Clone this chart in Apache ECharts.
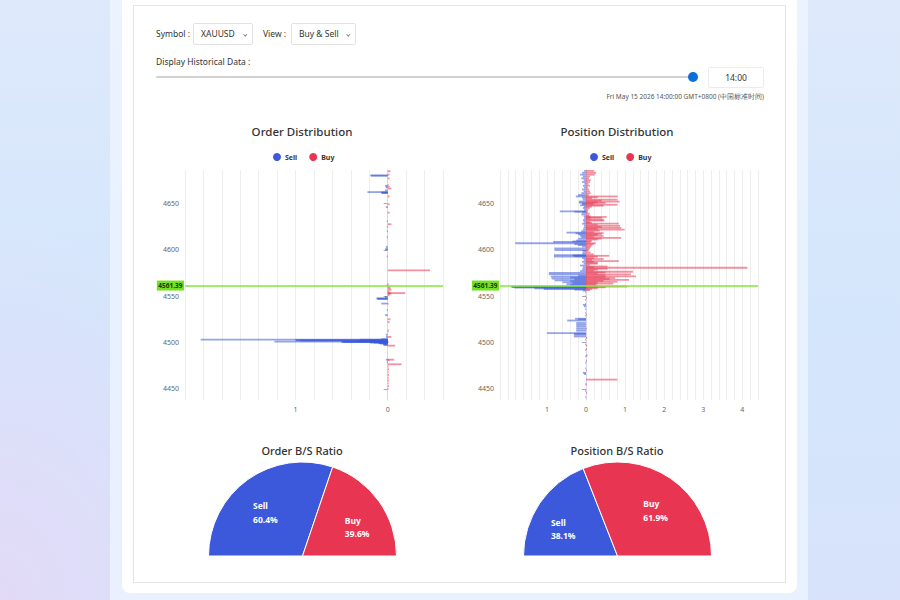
<!DOCTYPE html>
<html>
<head>
<meta charset="utf-8">
<script src="https://cdn.jsdelivr.net/npm/echarts@6/dist/echarts.min.js"></script>
<style>
html,body{margin:0;padding:0;width:900px;height:600px;overflow:hidden;font-family:'Noto Sans','Open Sans',sans-serif;color:#333;}
body{position:relative;background:
 radial-gradient(ellipse 260px 380px at 0% 100%, rgba(226,218,247,1) 0%, rgba(226,218,247,0) 100%),
 linear-gradient(180deg,#dee9fb 0%,#d4e6fb 55%,#d8e3fb 100%);}
#outer{position:absolute;left:110px;top:0;width:698px;height:600px;background:rgba(238,246,255,0.75);}
#inner{position:absolute;left:122px;top:0;width:675px;height:593px;background:#fff;border-radius:0 0 8px 8px;}
#card{position:absolute;left:133px;top:5px;width:653px;height:578px;border:1px solid #e4e4e4;box-sizing:border-box;}
.lbl{position:absolute;font-size:8.5px;color:#333;white-space:nowrap;}
.sel{position:absolute;height:22px;box-sizing:border-box;border:1px solid #e2e2e2;border-radius:2px;font-size:8.5px;line-height:20px;padding-left:7px;color:#333;background:#fff;white-space:nowrap;}
.chev{position:absolute;top:8.5px;width:1.6px;height:1.6px;border-right:1px solid #888;border-bottom:1px solid #888;transform:rotate(45deg);}
#track{position:absolute;left:156px;top:76px;width:537px;height:2px;background:#d2d2d2;border-radius:1px;}
#handle{position:absolute;left:688px;top:72px;width:10px;height:10px;border-radius:50%;background:#0a6fd8;}
#time{position:absolute;left:708px;top:67px;width:56px;height:21px;box-sizing:border-box;border:1px solid #ececec;border-radius:2px;font-size:8.5px;line-height:19px;text-align:center;color:#333;}
#date{position:absolute;right:136px;top:92px;font-size:6.5px;color:#555;white-space:nowrap;}
#chart{position:absolute;left:0;top:0;width:900px;height:600px;}
</style>
</head>
<body>
<div id="outer"></div>
<div id="inner"></div>
<div id="card"></div>
<div class="lbl" style="left:156px;top:28px">Symbol :</div>
<div class="sel" style="left:193px;top:23px;width:60px;">XAUUSD<span class="chev" style="left:50px"></span></div>
<div class="lbl" style="left:263px;top:28px">View :</div>
<div class="sel" style="left:291px;top:23px;width:65px;">Buy &amp; Sell<span class="chev" style="left:55px"></span></div>
<div class="lbl" style="left:156px;top:56px">Display Historical Data :</div>
<div id="track"></div>
<div id="handle"></div>
<div id="time">14:00</div>
<div id="date">Fri May 15 2026 14:00:00 GMT+0800 (中国标准时间)</div>
<div id="chart"></div>
<script>
// ---------- data ----------
var currentPrice = 4561.39;
var priceTicks = [4450, 4500, 4550, 4600, 4650];
var sideNames = ['Sell', 'Buy'];

// [price, volume]
var orderSell = [
 [4680.2,0.19],[4679.8,0.18],[4669,0.03],[4667.5,0.02],[4664,0.03],[4662.2,0.22],[4661.8,0.07],[4661.5,0.07],[4661.2,0.06],
 [4646,0.02],[4630.7,0.01],[4624.6,0.01],[4620,0.01],[4613.5,0.01],[4603,0.02],[4600.6,0.03],[4600.2,0.02],[4593,0.01],
 [4562,0.01],[4549,0.03],[4547.6,0.12],[4547.3,0.12],[4546.9,0.11],[4542,0.07],[4535,0.01],[4529.5,0.03],[4508.4,0.02],
 [4506,0.02],[4503.7,0.07],[4503.2,2.03],[4503,0.3],[4502.5,1.0],[4502.3,1.0],[4502.1,0.95],[4501.7,0.32],[4501.5,0.32],
 [4501.3,0.3],[4501,1.23],[4500.8,0.5],[4500.6,0.5],[4500.4,0.48],[4500.2,0.19],[4500,0.19],[4499.8,0.15],[4499.5,0.1],
 [4499.2,0.1],[4498.8,0.08],[4498.4,0.05],[4497.7,0.05],[4497.2,0.04],[4481.5,0.02],[4478.7,0.01]
];
var orderBuy = [
 [4684.6,0.03],[4681,0.02],[4677,0.02],[4670,0.01],[4668,0.02],[4666,0.04],[4657.5,0.02],[4649,0.02],[4640,0.02],
 [4627.5,0.04],[4577.8,0.46],[4563,0.01],[4560.5,0.02],[4558.8,0.03],[4557,0.04],[4555,0.02],[4553.3,0.19],[4553,0.03],
 [4552.7,0.04],[4551,0.02],[4541.6,0.01],[4525,0.03],[4522,0.02],[4513.4,0.01],[4512,0.01],[4506,0.04],[4500.5,0.01],
 [4496.6,0.08],[4481.5,0.07],[4481,0.02],[4476.5,0.15],[4474,0.01],[4471,0.015],[4468,0.01],[4465,0.015],[4462,0.01],
 [4459,0.015],[4456,0.01],[4453,0.015],[4450,0.01]
];
var posSell = [
 [4685,0.05],[4683,0.1],[4681,0.15],[4679,0.08],[4677,0.12],[4675,0.06],[4673,0.1],[4671,0.04],[4669,0.08],[4667,0.05],
 [4665,0.1],[4663,0.06],[4661,0.12],[4659,0.2],[4657.5,0.26],[4656,0.1],[4654,0.08],[4652,0.18],[4650.7,0.18],[4649,0.1],
 [4648,0.15],[4646.5,0.05],[4645,0.08],[4643,0.05],[4641.4,0.67],[4641,0.3],[4640,0.1],[4638,0.12],[4636,0.06],[4634,0.05],
 [4632,0.08],[4630,0.06],[4628,0.1],[4626,0.05],[4624,0.06],[4622,0.08],[4620,0.12],[4618.5,0.5],[4617.7,0.27],[4616.5,0.2],
 [4615,0.15],[4613.5,0.12],[4612,0.2],[4610,0.25],[4609,0.35],[4608.5,0.84],[4607,1.81],[4606,0.3],[4605,0.2],[4603.5,0.1],
 [4601.4,0.81],[4599.6,0.8],[4598,0.08],[4596,0.1],[4594.2,0.82],[4594,0.34],[4593,0.3],[4592.5,0.82],[4591,0.1],[4589,0.06],
 [4587,0.1],[4585,0.06],[4583,0.15],[4581,0.08],[4579,0.1],[4577,0.15],[4575,0.95],[4573.5,0.95],[4572,0.2],[4571,0.9],
 [4570,0.4],[4569,0.88],[4568,0.3],[4567,0.8],[4566,0.4],[4565,0.6],[4564,0.35],[4563,0.5],[4562,0.4],[4560.3,1.92],
 [4559.8,1.9],[4559.3,1.83],[4558.5,1.32],[4557.7,1.08],[4557,0.3],[4556,0.08],[4554,0.02],[4550,0.02],[4546,0.02],[4542,0.02],
 [4540.6,0.08],[4539,0.05],[4536,0.02],[4532,0.02],[4529,0.02],[4525.6,0.28],[4525,0.2],[4523.7,0.48],[4521,0.25],[4519,0.25],
 [4517,0.25],[4514.8,0.25],[4512.7,0.25],[4510.2,1.0],[4509.5,0.3],[4508.4,0.31],[4506.5,0.31],[4503,0.02],[4498,0.02],
 [4492,0.02],[4485,0.02],[4478,0.02],[4472,0.02],[4467.3,0.08],[4466,0.05],[4455,0.02],[4448,0.02],[4441,0.02]
];
var posBuy = [
 [4685,0.2],[4683,0.26],[4681,0.22],[4679,0.1],[4677,0.08],[4675,0.12],[4673,0.1],[4671,0.06],[4669,0.1],[4667,0.05],
 [4665,0.08],[4663,0.1],[4661,0.12],[4659,0.08],[4657.5,0.81],[4656.5,0.3],[4655.5,0.15],[4654,0.8],[4653,0.4],[4652,0.86],
 [4651,0.3],[4650.5,0.5],[4649.5,0.2],[4648.5,0.8],[4647.5,0.45],[4646.5,0.15],[4645,0.1],[4643,0.06],[4641,0.05],[4639,0.1],
 [4637,0.08],[4636,0.12],[4635.3,0.53],[4634.5,0.4],[4633.5,0.12],[4632.5,0.45],[4631.5,0.47],[4630,0.1],[4629,0.15],
 [4628.2,0.84],[4627,0.3],[4625.7,0.87],[4624.6,0.4],[4623.5,0.9],[4622.5,0.3],[4621.7,0.99],[4620.5,0.35],[4619,0.2],
 [4618,0.45],[4617,0.4],[4616,0.3],[4615,0.45],[4614,0.2],[4612.8,0.9],[4612,0.4],[4611,0.3],[4609.5,0.15],[4608.5,0.12],
 [4607,0.25],[4606,0.2],[4604.5,0.15],[4603,0.12],[4601.5,0.1],[4600,0.08],[4599,0.06],[4597,0.12],[4595,0.2],[4593.5,0.59],
 [4592.5,0.3],[4591,0.2],[4590,0.45],[4589,0.15],[4587.8,0.84],[4587,0.2],[4586,0.3],[4585,0.3],[4583.5,0.1],[4582,0.55],
 [4581,0.2],[4580.6,4.13],[4579.5,0.55],[4578.5,0.3],[4577.5,0.2],[4576.3,1.2],[4575.5,0.5],[4574.5,0.3],[4573.5,1.15],
 [4572.5,0.5],[4571.3,1.28],[4570.5,0.5],[4569.5,0.75],[4568.5,0.6],[4567.5,1.1],[4566.5,0.45],[4565.5,0.8],[4564.5,0.3],
 [4563.5,0.7],[4562.8,0.25],[4561.5,0.3],[4560.2,1.05],[4559.5,0.5],[4558.5,0.3],[4557.5,0.15],[4556.5,0.1],
 [4548,0.02],[4530,0.02],[4515,0.02],[4505,0.03],[4497,0.03],[4493,0.02],[4486,0.04],[4480,0.02],[4470,0.02],[4460,0.8],
 [4455,0.02],[4446,0.03]
];
var orderRatio = [60.4, 39.6];   // Sell, Buy
var positionRatio = [38.1, 61.9]; // Sell, Buy

// ---------- styling ----------
var SELL = '#3b59da', BUY = '#e83652';
var BAR_H = 1.8, BAR_ALPHA = 0.55;
var pieLabelShift = [[[-8, -3], [14, 0]], [[-13, 1], [10, -4]]];

var chart = echarts.init(document.getElementById('chart'), null, {renderer: 'svg'});

function renderBar(sign) {
  return function (params, api) {
    var price = api.value(0), vol = api.value(1) * sign;
    var a = api.coord([0, price]);
    var b = api.coord([vol, price]);
    return {
      type: 'rect',
      shape: {x: Math.min(a[0], b[0]), y: a[1] - BAR_H / 2, width: Math.abs(b[0] - a[0]), height: BAR_H},
      style: {fill: api.visual('color'), opacity: BAR_ALPHA}
    };
  };
}

function xAxisCfg(idx, min, max) {
  return {
    type: 'value', gridIndex: idx, min: min, max: max, interval: 0.2,
    axisLine: {show: false}, axisTick: {show: false},
    splitLine: {show: true, lineStyle: {color: '#eeeeee', width: 1}},
    axisLabel: {
      fontSize: 7, color: '#666', margin: 6,
      formatter: function (v) {
        var r = Math.round(v);
        if (Math.abs(v - r) > 1e-6 || r < -1) return '';
        return String(Math.abs(r));
      }
    }
  };
}
function yAxisCfg(idx) {
  return {
    type: 'value', gridIndex: idx, min: 4438, max: 4686,
    axisLine: {show: true, lineStyle: {color: '#d3daee', width: 1}},
    axisTick: {show: true, length: 4, lineStyle: {color: '#aaaaaa'}, customValues: priceTicks},
    axisLabel: {fontSize: 7, color: '#666666', margin: 6, customValues: priceTicks,
      formatter: function (v) { return String(v); }},
    splitLine: {show: false}
  };
}
function barSeries(name, data, sign, color, idx) {
  return {
    name: name, type: 'custom', xAxisIndex: idx, yAxisIndex: idx, clip: true,
    itemStyle: {color: color}, encode: {x: 1, y: 0},
    renderItem: renderBar(sign), data: data, silent: true
  };
}
function priceLine(idx) {
  return {
    type: 'line', xAxisIndex: idx, yAxisIndex: idx, data: [], silent: true,
    markLine: {
      silent: true, symbol: ['none', 'none'], animation: false,
      lineStyle: {color: '#80e838', width: 1.5, type: 'solid'},
      label: {position: 'start', formatter: currentPrice.toFixed(2), distance: 1,
        backgroundColor: '#73e022', color: '#1b3a00', fontSize: 6.5, fontWeight: 'bold', padding: [1.5, 1.5]},
      data: [{yAxis: currentPrice}]
    }
  };
}
function pieSeries(k, values, cx) {
  return {
    type: 'pie', center: [cx, 556], radius: 94, startAngle: 180, endAngle: 0,
    silent: true, animation: false,
    itemStyle: {borderColor: '#fff', borderWidth: 1},
    label: {
      show: true, position: 'inside',
      formatter: function (p) { return '{t|' + p.name + '}\n{t|' + p.value.toFixed(1) + '%}'; },
      rich: {t: {align: 'left', color: '#fff', fontSize: 8.5, fontWeight: 'bold', lineHeight: 13.5}}
    },
    labelLine: {show: false},
    labelLayout: function (p) { var s = pieLabelShift[k][p.dataIndex]; return {dx: s[0], dy: s[1]}; },
    data: sideNames.map(function (n, i) { return {name: n, value: values[i]}; })
  };
}
function titleText(text, x, y, size) {
  return {type: 'text', x: x, y: y, silent: true,
    style: {text: text, align: 'center', verticalAlign: 'middle', fill: '#333', fontSize: size, fontWeight: 500, fontFamily: "'Noto Sans', sans-serif"}};
}

chart.setOption({
  animation: false,
  color: [SELL, BUY],
  textStyle: {fontFamily: "'Noto Sans', sans-serif"},
  graphic: [
    titleText('Order Distribution', 302, 131, 11.5),
    titleText('Position Distribution', 617, 131, 11.5),
    titleText('Order B/S Ratio', 302, 450, 11),
    titleText('Position B/S Ratio', 617, 450, 11)
  ],
  legend: [
    {data: sideNames, left: 268, top: 148, icon: 'circle', itemWidth: 8, itemHeight: 8, itemGap: 12,
     selectedMode: false, textStyle: {fontSize: 7, fontWeight: 'bold', color: '#333', padding: [0, 0, 0, -1]}},
    {data: sideNames, left: 585, top: 148, icon: 'circle', itemWidth: 8, itemHeight: 8, itemGap: 12,
     selectedMode: false, textStyle: {fontSize: 7, fontWeight: 'bold', color: '#333', padding: [0, 0, 0, -1]}}
  ],
  grid: [
    {left: 185, width: 258, top: 170, height: 230},
    {left: 500, width: 258, top: 170, height: 230}
  ],
  xAxis: [xAxisCfg(0, -2.2, 0.6), xAxisCfg(1, -2.2, 4.4)],
  yAxis: [yAxisCfg(0), yAxisCfg(1)],
  series: [
    barSeries('Sell', orderSell, -1, SELL, 0),
    barSeries('Buy', orderBuy, 1, BUY, 0),
    priceLine(0),
    barSeries('Sell', posSell, -1, SELL, 1),
    barSeries('Buy', posBuy, 1, BUY, 1),
    priceLine(1),
    pieSeries(0, orderRatio, 302.5),
    pieSeries(1, positionRatio, 617.5)
  ]
});
</script>
</body>
</html>
